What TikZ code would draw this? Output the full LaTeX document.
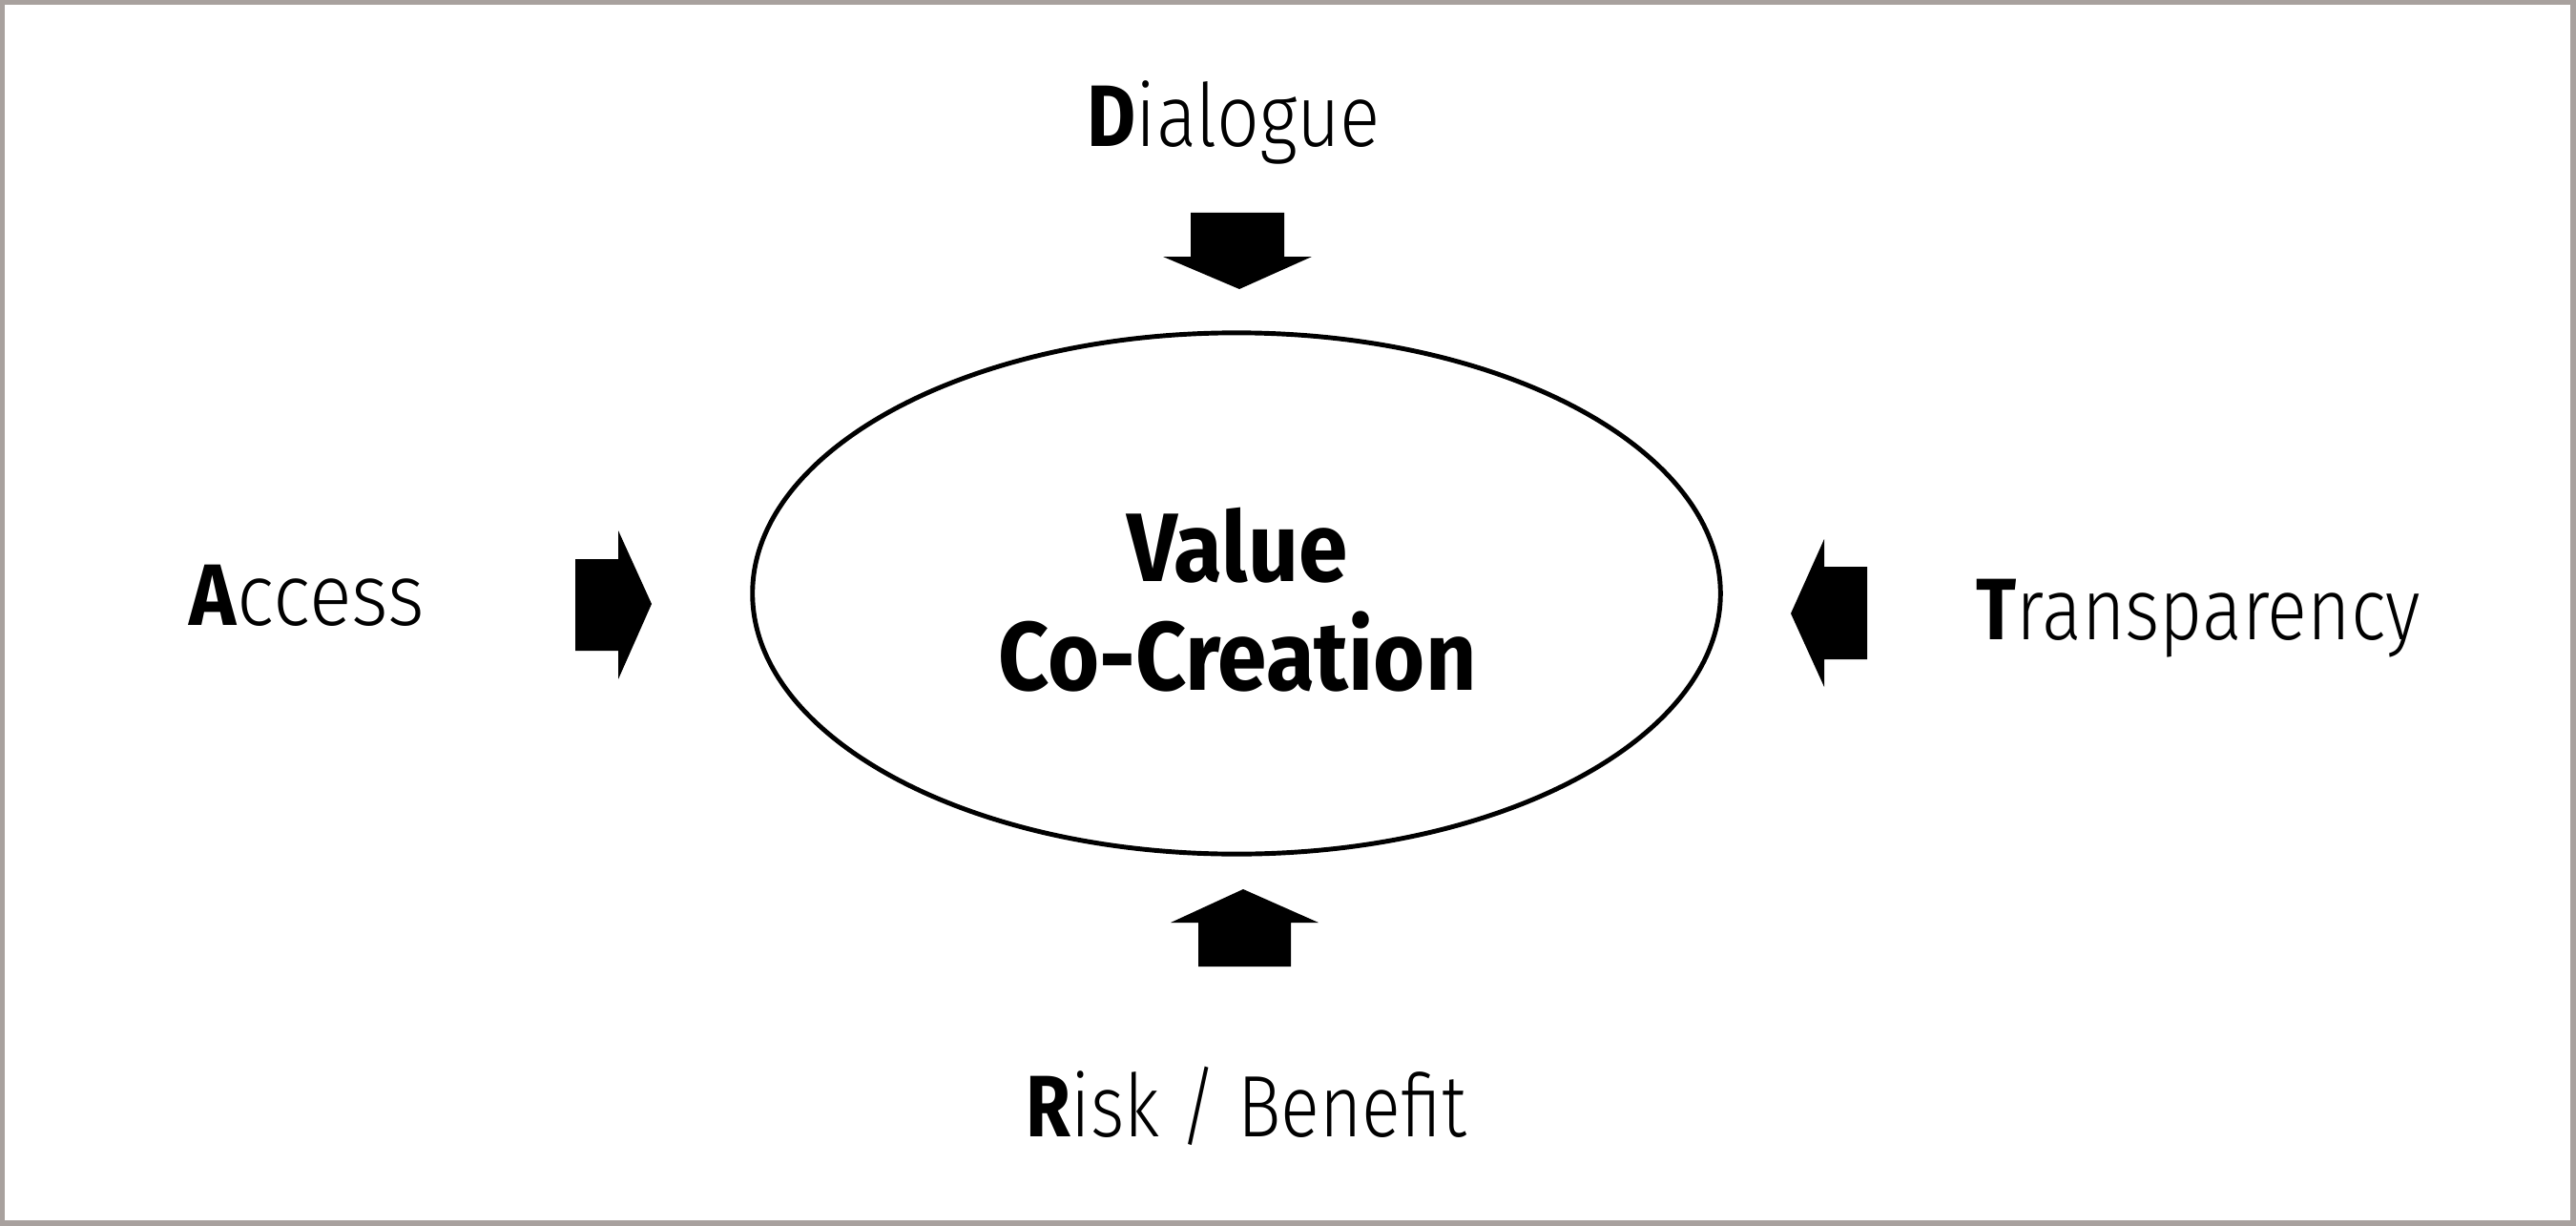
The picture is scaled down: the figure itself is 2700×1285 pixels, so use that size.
\documentclass[tikz,border=0pt]{standalone}
\usepackage{fontspec}
\setmainfont{Fira Sans}[UprightFont=* Light, BoldFont=* Bold]
\usetikzlibrary{shapes.geometric}
\definecolor{framegray}{RGB}{168,161,158}
\tikzset{
  x=0.01cm, y=-0.01cm,
  label/.style={inner sep=0pt, anchor=base west, font=\fontsize{26}{30}\selectfont},
  blockarrow/.style={fill=black, draw=none},
}
\newcommand{\sq}[2]{\scalebox{#1}[1]{#2}}
\begin{document}
\begin{tikzpicture}
\fill[framegray] (0,0) rectangle (2700,1285);
\fill[white] (5,5) rectangle (2694,1279);
\useasboundingbox (0,0) rectangle (2700,1285);
% central ellipse
\node[draw, ellipse, line width=1.4pt, minimum width=10.14cm, minimum height=5.46cm, inner sep=0pt] (vcc) at (1296,622) {};
\node[inner sep=0pt, anchor=base, align=center, font=\fontsize{29}{32.2}\selectfont\bfseries] (vcctext) at (1297,723) {\sq{0.91}{Value}\\\sq{0.91}{Co-Creation}};
% labels
\node[label] (dialogue) at (1139,153) {\sq{0.86}{\textbf{D}ialogue}};
\node[label] (access) at (198,655) {\sq{0.91}{\textbf{A}ccess}};
\node[label] (transp) at (2071,670) {\sq{0.853}{\textbf{T}ransparency}};
\node[label] (risk) at (1075,1191) {\sq{0.83}{\textbf{R}isk / Benefit}};
% block arrows
\fill[blockarrow] (1248,223) -- (1346,223) -- (1346,269) -- (1375,269) -- (1299,303) -- (1219,269) -- (1248,269) -- cycle;
\fill[blockarrow] (603,586) -- (648,586) -- (648,556) -- (683,633) -- (648,712) -- (648,682) -- (603,682) -- cycle;
\fill[blockarrow] (1957,594) -- (1912,594) -- (1912,565) -- (1877,643) -- (1912,720) -- (1912,691) -- (1957,691) -- cycle;
\fill[blockarrow] (1256,1013) -- (1353,1013) -- (1353,967) -- (1382,967) -- (1303,932) -- (1227,967) -- (1256,967) -- cycle;
\end{tikzpicture}
\end{document}
